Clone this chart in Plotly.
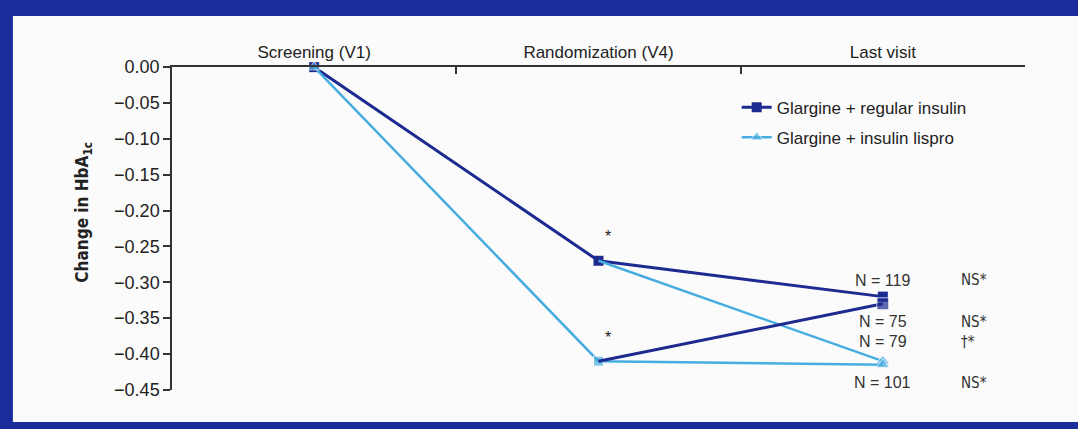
import plotly.graph_objects as go

# ---- data ----
categories = ["Screening (V1)", "Randomization (V4)", "Last visit"]
regular_main = [0.00, -0.27, -0.32]          # glargine + regular insulin throughout
regular_switch = [-0.41, -0.33]              # switched to regular insulin at V4
lispro_main = [0.00, -0.41, -0.415]          # glargine + insulin lispro throughout
lispro_switch = [-0.27, -0.41]               # switched to lispro at V4
y_ticks = [0.00, -0.05, -0.10, -0.15, -0.20, -0.25, -0.30, -0.35, -0.40, -0.45]
n_labels = ["N = 119", "N = 75", "N = 79", "N = 101"]
n_label_y = [-0.297, -0.355, -0.383, -0.440]
sig_labels = ["NS*", "NS*", "†*", "NS*"]
series_names = ["Glargine + regular insulin", "Glargine + insulin lispro"]

DARK = "#1d2a8f"
LIGHT = "#47ade0"
FRAME = "#1b2c9c"
FONT = "Liberation Sans, Arial, sans-serif"
NARROW = "Liberation Sans Narrow, DejaVu Sans Condensed, Liberation Sans, sans-serif"

fig = go.Figure()

fig.add_trace(go.Scatter(
    x=categories, y=regular_main, mode="lines+markers", name=series_names[0],
    line=dict(color=DARK, width=3), marker=dict(symbol="square", size=10, color=DARK),
    legendgroup="a", cliponaxis=False))
fig.add_trace(go.Scatter(
    x=categories[1:], y=lispro_switch, mode="lines+markers", showlegend=False,
    line=dict(color=LIGHT, width=2.5),
    marker=dict(symbol="triangle-up", size=[0, 12], color=LIGHT),
    cliponaxis=False))
fig.add_trace(go.Scatter(
    x=categories, y=lispro_main, mode="lines+markers", name=series_names[1],
    line=dict(color=LIGHT, width=2.5),
    marker=dict(symbol=["triangle-up", "square", "triangle-up"], size=[11, 10, 12], color=LIGHT),
    legendgroup="b", cliponaxis=False))
fig.add_trace(go.Scatter(
    x=categories[1:], y=regular_switch, mode="lines+markers", showlegend=False,
    line=dict(color=DARK, width=3),
    marker=dict(symbol="square", size=[0, 12], color=DARK),
    cliponaxis=False))

annotations = []
# significance stars at randomization
for yv in (regular_main[1], lispro_main[1]):
    annotations.append(dict(x=categories[1], y=yv, xref="x", yref="y", text="*",
                            showarrow=False, xshift=9, yshift=24,
                            font=dict(family=FONT, size=16, color="#222")))
for txt, yv, sig in zip(n_labels, n_label_y, sig_labels):
    annotations.append(dict(x=categories[2], y=yv, xref="x", yref="y", text=txt,
                            showarrow=False, xanchor="center",
                            font=dict(family=FONT, size=16, color="#333")))
    annotations.append(dict(x=categories[2], y=yv, xref="x", yref="y", text=sig,
                            showarrow=False, xanchor="left", xshift=76,
                            font=dict(family=NARROW, size=15, color="#333")))
# y-axis title
annotations.append(dict(x=-0.104, y=0.55, xref="paper", yref="paper",
                        text="<b>Change in HbA<sub>1c</sub></b>", textangle=-90,
                        showarrow=False, xanchor="center", yanchor="middle",
                        font=dict(family=NARROW, size=17, color="#222")))

shapes = [
    dict(type="rect", xref="paper", yref="paper", x0=-0.25, x1=1.1, y0=1.158, y1=1.25,
         fillcolor=FRAME, line=dict(width=0), layer="above"),
    dict(type="rect", xref="paper", yref="paper", x0=-0.25, x1=-0.1865, y0=-0.2, y1=1.25,
         fillcolor=FRAME, line=dict(width=0), layer="above"),
    dict(type="rect", xref="paper", yref="paper", x0=-0.25, x1=1.1, y0=-0.2, y1=-0.0991,
         fillcolor=FRAME, line=dict(width=0), layer="above"),
]

fig.update_layout(
    width=1078, height=429,
    margin=dict(l=172, r=53, t=67, b=39),
    paper_bgcolor="#fbfbfb", plot_bgcolor="#fbfbfb",
    font=dict(family=FONT, size=17, color="#222"),
    showlegend=True,
    legend=dict(x=0.662, y=0.93, xanchor="left", yanchor="top",
                bgcolor="rgba(0,0,0,0)", font=dict(family=FONT, size=17, color="#222"),
                traceorder="grouped", tracegroupgap=5),
    annotations=annotations, shapes=shapes,
    xaxis=dict(type="category", categoryorder="array", categoryarray=categories,
               range=[-0.5, 2.5], side="top", showline=True, linecolor="#333", linewidth=1.5,
               ticks="inside", tickson="boundaries", ticklen=7, tickcolor="#333", tickwidth=1.5,
               showgrid=False, zeroline=False, tickfont=dict(size=17), mirror=False),
    yaxis=dict(range=[-0.4502, 0.0002], tickvals=y_ticks, tickformat=".2f",
               showline=True, linecolor="#333", linewidth=1.5,
               ticks="outside", ticklen=7, tickcolor="#333", tickwidth=1.5,
               showgrid=False, zeroline=False, tickfont=dict(size=18)),
)

fig.write_html("out.html", config={"displayModeBar": False},
               post_script="document.body.style.margin='0';document.body.style.overflow='hidden';")
